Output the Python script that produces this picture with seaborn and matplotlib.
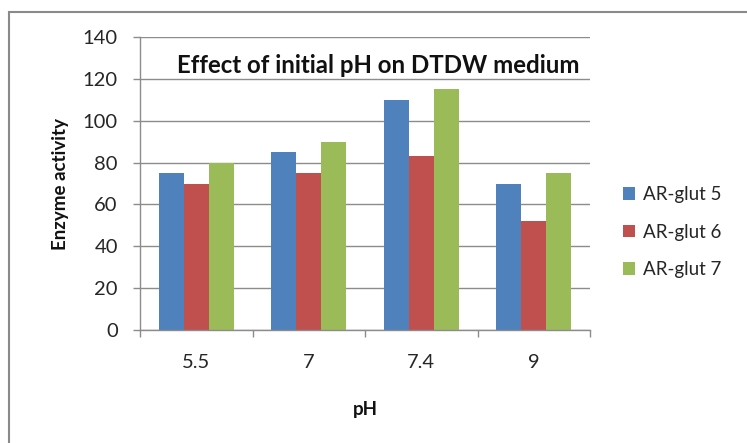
import matplotlib
matplotlib.use("Agg")
import matplotlib.pyplot as plt
from matplotlib.patches import Rectangle
import pandas as pd
import seaborn as sns

# Enzyme activity per initial pH for three isolates
ph_levels = ["5.5", "7", "7.4", "9"]
series_names = ["AR-glut 5", "AR-glut 6", "AR-glut 7"]
glut5 = [75, 85, 110, 70]
glut6 = [70, 75, 83, 52]
glut7 = [80, 90, 115, 75]
y_ticks = [0, 20, 40, 60, 80, 100, 120, 140]

colors = ["#4F81BD", "#C0504D", "#9BBB59"]

df = pd.DataFrame({
    "pH": ph_levels * 3,
    "series": [s for s in series_names for _ in ph_levels],
    "activity": glut5 + glut6 + glut7,
})

sns.set_theme(style="white")
plt.rcParams["font.family"] = ["Lato", "DejaVu Sans"]

fig = plt.figure(figsize=(7.47, 4.43), dpi=100)
ax = fig.add_axes([140 / 747, 1 - 330 / 443, 450 / 747, 293 / 443])

sns.barplot(data=df, x="pH", y="activity", hue="series", order=ph_levels,
            hue_order=series_names, palette=colors, width=0.667, gap=0,
            saturation=1, linewidth=0, ax=ax, legend=True)

ax.set_xlim(-0.5, 3.5)
ax.set_ylim(0, 140)
ax.set_yticks(y_ticks)
ax.yaxis.grid(True, color="#8C8C8C", linewidth=1)
ax.set_axisbelow(True)

for side in ["top", "right"]:
    ax.spines[side].set_visible(False)
for side in ["left", "bottom"]:
    ax.spines[side].set_color("#8C8C8C")
    ax.spines[side].set_linewidth(1)

# tick marks sit between categories on the x axis
ax.set_xticks([i - 0.5 for i in range(len(ph_levels) + 1)], minor=True)
ax.tick_params(axis="x", which="minor", length=5, width=1, color="#8C8C8C",
               direction="out", bottom=True)
ax.tick_params(axis="x", which="major", length=0, pad=17, labelsize=14.5,
               labelcolor="#262626")
ax.tick_params(axis="y", which="major", length=5, width=1, color="#8C8C8C",
               direction="out", left=True, pad=11, labelsize=14.5,
               labelcolor="#262626")

ax.set_xlabel("pH", fontsize=13.5, fontweight="bold", labelpad=22,
              color="#111111")
ax.set_ylabel("Enzyme activity", fontsize=13.5, fontweight="bold", labelpad=10,
              color="#111111")

ax.text(0.529, 0.904, "Effect of initial pH on DTDW medium",
        transform=ax.transAxes, ha="center", va="center",
        fontsize=17.3, fontweight="bold", color="#111111")

handles, labels = ax.get_legend_handles_labels()
ax.legend(handles, labels, loc="center left", bbox_to_anchor=(1.035, 0.334),
          frameon=False, fontsize=13.5, handlelength=0.65, handleheight=0.65,
          handletextpad=0.45, labelspacing=1.1, labelcolor="#262626")

# outer chart frame
fig.patches.append(Rectangle((9 / 747, -0.05), 1.2, 1 - 12 / 443 + 0.05,
                             transform=fig.transFigure, fill=False,
                             edgecolor="#8A8A8A", linewidth=1.5))

fig.savefig("out.png", dpi=100, facecolor="white")
